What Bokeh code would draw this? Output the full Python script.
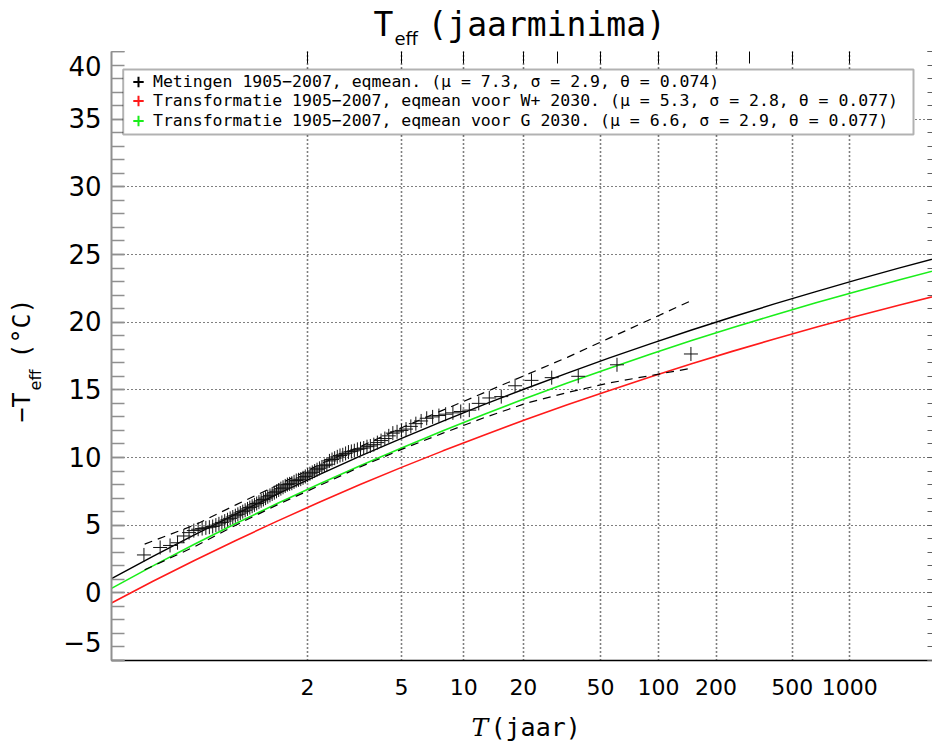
import numpy as np
from bokeh.plotting import figure
from bokeh.layouts import column, row
from bokeh.models import (FixedTicker, Range1d, LinearAxis, Label, Legend, LegendItem,
                          BoxAnnotation)
from bokeh.embed import file_html
from bokeh.resources import INLINE

# ---------------- data ----------------
# return-period tick values (years) on the Gumbel axis
tick_T = [2, 5, 10, 20, 50, 100, 200, 500, 1000]
tick_labels = ["2", "5", "10", "20", "50", "100", "200", "500", "1000"]
top_tick_T = [2, 5, 10, 20, 30, 50, 100, 200, 300, 500, 1000]
y_ticks = [-5, 0, 5, 10, 15, 20, 25, 30, 35, 40]
y_minor = list(range(-5, 41))

# measured annual minima (-Teff, degC), sorted, 1905-2007
metingen = [
    2.8, 3.35, 3.5, 3.7, 4.2, 4.45, 4.6, 4.7, 4.75, 4.8,
    4.85, 4.9, 5.0, 5.1, 5.2, 5.3, 5.4, 5.5, 5.6, 5.7,
    5.8, 5.9, 6.0, 6.1, 6.2, 6.3, 6.4, 6.5, 6.6, 6.7,
    6.8, 6.9, 7.0, 7.1, 7.2, 7.3, 7.4, 7.5, 7.6, 7.7,
    7.8, 7.9, 8.0, 8.05, 8.1, 8.2, 8.3, 8.35, 8.4, 8.5,
    8.6, 8.7, 8.8, 8.9, 9.0, 9.1, 9.2, 9.3, 9.4, 9.5,
    9.75, 9.85, 9.95, 10.05, 10.15, 10.2, 10.3, 10.4, 10.45, 10.5,
    10.6, 10.65, 10.7, 10.8, 10.85, 10.95, 11.1, 11.25, 11.4, 11.6,
    11.8, 11.9, 12.0, 12.1, 12.3, 12.5, 12.7, 12.9, 13.0, 13.1,
    13.2, 13.3, 13.4, 13.5, 14.0, 14.4, 14.5, 15.3, 15.7, 15.9,
    16.0, 16.85, 17.65,
]

# fitted curves, nodes on the Gumbel reduced variate
curve_u = [-2.0, -1.5, -1.0, -0.5, 0.0, 0.5, 1.0, 1.5, 2.0, 2.5, 3.0,
           3.5, 4.0, 4.5, 5.0, 5.5, 6.0, 6.5, 7.0, 7.5, 8.0]
fit_metingen = [1.05, 2.70, 4.29, 5.82, 7.30, 8.72, 10.10, 11.42, 12.69, 13.92, 15.10,
                16.24, 17.34, 18.40, 19.42, 20.40, 21.35, 22.26, 23.14, 23.99, 24.81]
fit_wplus = [-0.75, 0.85, 2.39, 3.87, 5.30, 6.67, 8.00, 9.27, 10.49, 11.67, 12.80,
             13.89, 14.94, 15.95, 16.92, 17.86, 18.75, 19.62, 20.45, 21.25, 22.02]
fit_g = [0.33, 1.99, 3.59, 5.12, 6.60, 8.02, 9.39, 10.71, 11.98, 13.20, 14.37,
         15.50, 16.58, 17.63, 18.64, 19.60, 20.53, 21.43, 22.29, 23.12, 23.92]

# confidence band (dashed)
band_u = [-1.6, -1.0, -0.5, 0.0, 0.5, 1.0, 1.5, 2.0, 2.5, 3.0, 3.5, 4.0, 4.5, 5.0]
band_upper = [3.6, 5.0, 6.5, 7.95, 9.45, 10.8, 12.2, 13.5, 14.8, 16.1, 17.4, 18.8, 20.2, 21.6]
band_lower = [1.7, 3.4, 5.0, 6.5, 7.9, 9.3, 10.6, 11.8, 12.95, 14.0, 14.8, 15.5, 16.05, 16.6]

legend_labels = [
    "Metingen 1905\u22122007, eqmean. (\u03bc = 7.3, \u03c3 = 2.9, \u03b8 = 0.074)",
    "Transformatie 1905\u22122007, eqmean voor W+ 2030. (\u03bc = 5.3, \u03c3 = 2.8, \u03b8 = 0.077)",
    "Transformatie 1905\u22122007, eqmean voor G 2030. (\u03bc = 6.6, \u03c3 = 2.9, \u03b8 = 0.077)",
]


# ---------------- transforms ----------------
def gumbel(T):
    return float(-np.log(-np.log(1.0 - 1.0 / T)))


n = len(metingen)
rank = np.arange(1, n + 1)
F = (rank - 0.3) / (n + 0.4)
obs_u = -np.log(-np.log(F))

FONT = "DejaVu Sans"
MONO = "DejaVu Sans Mono"
RED = "#ff1a1a"
GREEN = "#1aee1a"

# ---------------- main plot ----------------
p = figure(width=882, height=657,
           x_range=Range1d(-2.0, 7.907), y_range=Range1d(-5, 40),
           output_backend="svg", toolbar_location=None,
           min_border_left=61, min_border_right=0,
           min_border_top=0, min_border_bottom=48)
p.outline_line_color = None
p.background_fill_color = "white"

# bottom axis
xt = FixedTicker(ticks=[gumbel(T) for T in tick_T], minor_ticks=[])
p.xaxis.ticker = xt
p.xaxis.major_label_overrides = {gumbel(T): lab for T, lab in zip(tick_T, tick_labels)}
p.xaxis.major_tick_in = 0
p.xaxis.major_tick_out = 0
p.xaxis.minor_tick_in = 0
p.xaxis.minor_tick_out = 0
p.xaxis.axis_line_color = "black"
p.xaxis.axis_line_width = 1.5
p.xaxis.major_label_standoff = 18
p.xaxis.major_label_text_font = FONT
p.xaxis.major_label_text_font_size = "22px"
p.xaxis.major_label_text_color = "black"

# left axis (bottom label nudged upward as in the original)
yt = FixedTicker(ticks=y_ticks, minor_ticks=y_minor)
p.yaxis.ticker = yt
p.yaxis.major_label_overrides = {-5: "\u22125\n"}
p.yaxis.major_tick_in = 13
p.yaxis.major_tick_out = 0
p.yaxis.minor_tick_in = 13
p.yaxis.minor_tick_out = 0
p.yaxis.major_tick_line_color = "#909090"
p.yaxis.minor_tick_line_color = "#909090"
p.yaxis.major_tick_line_width = 1.5
p.yaxis.minor_tick_line_width = 1.5
p.yaxis.axis_line_color = "#909090"
p.yaxis.axis_line_width = 2
p.yaxis.major_label_standoff = 10
p.yaxis.major_label_text_font = FONT
p.yaxis.major_label_text_font_size = "26px"
p.yaxis.major_label_text_color = "black"

# top ticks
top_axis = LinearAxis(ticker=FixedTicker(ticks=[gumbel(T) for T in top_tick_T], minor_ticks=[]),
                      major_label_overrides={gumbel(T): "" for T in top_tick_T},
                      major_tick_in=12, major_tick_out=0, major_label_standoff=0,
                      axis_line_color=None, major_tick_line_color="black")
p.add_layout(top_axis, "above")

# right ticks
right_axis = LinearAxis(ticker=FixedTicker(ticks=y_ticks, minor_ticks=y_minor),
                        major_label_overrides={t: "" for t in y_ticks},
                        major_tick_in=5, major_tick_out=0, minor_tick_in=5, minor_tick_out=0,
                        major_label_standoff=0, axis_line_color=None,
                        major_tick_line_color="#606060", minor_tick_line_color="#606060")
p.add_layout(right_axis, "right")

# grids
p.xgrid.ticker = xt
p.ygrid.ticker = FixedTicker(ticks=y_ticks)
p.xgrid.grid_line_color = "black"
p.xgrid.grid_line_dash = "1 3"
p.xgrid.grid_line_width = 1.6
p.ygrid.grid_line_color = "black"
p.ygrid.grid_line_dash = "1 3"
p.ygrid.grid_line_width = 1.2

# curves
p.line(curve_u, fit_wplus, line_color=RED, line_width=1.6)
p.line(curve_u, fit_g, line_color=GREEN, line_width=1.6)
p.line(curve_u, fit_metingen, line_color="black", line_width=1.4)
p.line(band_u, band_upper, line_color="black", line_width=1.2, line_dash="8 6")
p.line(band_u, band_lower, line_color="black", line_width=1.2, line_dash="8 6")

# observations
p.scatter(obs_u, metingen, marker="cross", size=14, line_color="#111111", line_width=1)

# legend: framed box with one entry per row
legend_box = BoxAnnotation(left=11.7, right=802, top=591, bottom=526,
                           left_units="screen", right_units="screen",
                           top_units="screen", bottom_units="screen",
                           fill_color="white", fill_alpha=1,
                           line_color="black", line_width=2)
p.add_layout(legend_box)

legend_colors = ["black", RED, GREEN]
legend_rows_y = [565.5, 546.0, 526.5]
for lab, col, ly in zip(legend_labels, legend_colors, legend_rows_y):
    sw = p.scatter(x=[np.nan], y=[np.nan], marker="cross", size=12,
                   line_color=col, line_width=2)
    lg = Legend(items=[LegendItem(label=lab, renderers=[sw])],
                location=(14, ly), padding=0, spacing=0, margin=0,
                label_height=27, glyph_height=27, glyph_width=26, label_standoff=2,
                border_line_color=None, background_fill_alpha=0,
                label_text_font=MONO, label_text_font_size="16.5px",
                label_text_color="black", label_text_baseline="middle")
    p.add_layout(lg, "center")


# ---------------- text panels (title and axis titles) ----------------
def text_fig(w, h):
    f = figure(width=w, height=h, x_range=Range1d(0, 1), y_range=Range1d(0, 1),
               x_axis_type=None, y_axis_type=None, output_backend="svg",
               toolbar_location=None, min_border=0)
    f.outline_line_color = None
    f.background_fill_color = "white"
    return f


def put(fig, x, y, text, size, angle=0.0, align="left", font=MONO, style="normal"):
    fig.add_layout(Label(x=x, y=y, x_units="screen", y_units="screen", text=text,
                         angle=angle, text_font=font, text_font_style=style,
                         text_font_size=size, text_align=align, text_baseline="middle",
                         text_color="black"))


# title: T_eff (jaarminima)
tfig = text_fig(932, 51)
put(tfig, 373, 27.4, "T", "33px")
put(tfig, 394, 12.7, "eff", "18px", font=FONT)
put(tfig, 427, 27.4, "(jaarminima)", "33px")

# y-axis title: -T_eff (degC), rotated (frame aligned with the main plot frame)
yfig = text_fig(50, 657)
put(yfig, 21.4, 253, "\u2212T", "25px", angle=np.pi / 2, align="center")
put(yfig, 34.5, 280.5, "eff", "16px", angle=np.pi / 2, align="center", font=FONT)
put(yfig, 21.4, 332, "(\u00b0C)", "25px", angle=np.pi / 2, align="center")

# x-axis title: T (jaar)
xfig = text_fig(932, 41)
put(xfig, 471, 21.6, "T", "25px", font="DejaVu Serif", style="italic")
put(xfig, 490, 21.65, "(jaar)", "25px")

layout = column(tfig, row(yfig, p), xfig)

open("out.html", "w").write(file_html(layout, INLINE))
